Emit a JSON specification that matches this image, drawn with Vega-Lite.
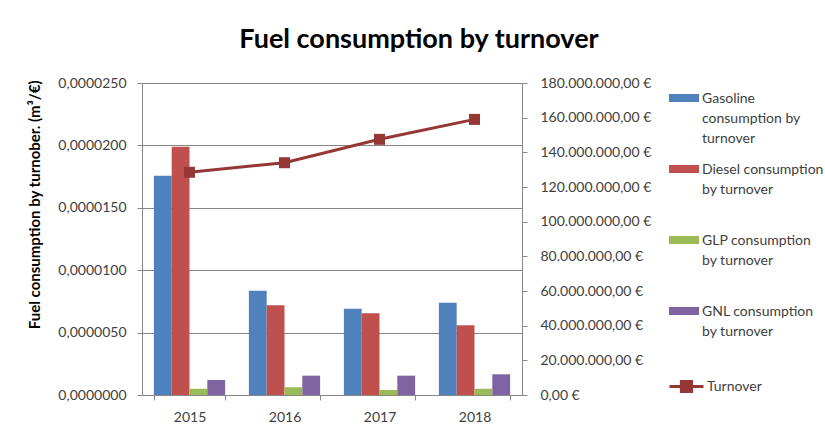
{
  "$schema": "https://vega.github.io/schema/vega-lite/v6.json",
  "width": 380,
  "height": 312,
  "autosize": {"type": "none"},
  "padding": {"left": 142, "top": 83, "right": 303, "bottom": 43},
  "background": "white",
  "config": {
    "locale": {"number": {"decimal": ",", "thousands": ".", "grouping": [3], "currency": ["", " €"]}},
    "font": "Lato",
    "view": {"stroke": null},
    "axis": {
      "labelFont": "Lato",
      "labelFontSize": 14,
      "labelColor": "#404040",
      "domainColor": "#868686",
      "tickColor": "#868686",
      "gridColor": "#868686",
      "gridOpacity": 1,
      "tickSize": 5
    }
  },
  "title": {
    "text": "Fuel consumption by turnover",
    "font": "Lato",
    "fontSize": 27,
    "fontWeight": "bold",
    "color": "#000000",
    "anchor": "middle",
    "frame": "group",
    "dx": 87,
    "offset": 22
  },
  "layer": [
    {
      "data": {
        "values": [
          {"year": "2015", "series": "Gasoline", "value": 0.00001757},
          {"year": "2015", "series": "Diesel", "value": 0.0000199},
          {"year": "2015", "series": "GLP", "value": 0.0000005},
          {"year": "2015", "series": "GNL", "value": 0.0000012},
          {"year": "2016", "series": "Gasoline", "value": 0.00000836},
          {"year": "2016", "series": "Diesel", "value": 0.0000072},
          {"year": "2016", "series": "GLP", "value": 0.00000062},
          {"year": "2016", "series": "GNL", "value": 0.00000155},
          {"year": "2017", "series": "Gasoline", "value": 0.00000692},
          {"year": "2017", "series": "Diesel", "value": 0.00000655},
          {"year": "2017", "series": "GLP", "value": 0.0000004},
          {"year": "2017", "series": "GNL", "value": 0.00000155},
          {"year": "2018", "series": "Gasoline", "value": 0.0000074},
          {"year": "2018", "series": "Diesel", "value": 0.00000558},
          {"year": "2018", "series": "GLP", "value": 0.0000005},
          {"year": "2018", "series": "GNL", "value": 0.00000166}
        ]
      },
      "mark": {"type": "bar"},
      "encoding": {
        "x": {
          "field": "year",
          "type": "nominal",
          "scale": {"paddingInner": 0.25, "paddingOuter": 0.125},
          "axis": {"title": null, "labelAngle": 0, "tickBand": "extent", "labelPadding": 10, "grid": false}
        },
        "xOffset": {
          "field": "series",
          "type": "nominal",
          "sort": ["Gasoline", "Diesel", "GLP", "GNL"],
          "scale": {"paddingInner": 0, "paddingOuter": 0}
        },
        "y": {
          "field": "value",
          "type": "quantitative",
          "scale": {"domain": [0, 0.000025], "nice": false, "zero": true},
          "axis": {
            "title": "Fuel consumption  by turnober. (m³/€)",
            "titleFont": "Lato",
            "titleFontSize": 15,
            "titleFontWeight": "bold",
            "titleColor": "#000000",
            "titleX": -108,
            "titleY": -3,
            "titleAlign": "right",
            "titleBaseline": "middle",
            "titleAngle": -90,
            "values": [0, 0.000005, 0.00001, 0.000015, 0.00002, 0.000025],
            "format": ".7f",
            "labelPadding": 11,
            "grid": true
          }
        },
        "color": {
          "field": "series",
          "type": "nominal",
          "sort": ["Gasoline", "Diesel", "GLP", "GNL"],
          "scale": {"domain": ["Gasoline", "Diesel", "GLP", "GNL"], "range": ["#4F81BD", "#C0504D", "#9BBB59", "#8064A2"]},
          "legend": {
            "title": null,
            "orient": "none",
            "legendX": 527,
            "legendY": -6,
            "padding": 0,
            "symbolType": "M-1,0.133H1V0.667H-1Z",
            "symbolSize": 900,
            "symbolStrokeWidth": 0,
            "labelFont": "Lato",
            "labelFontSize": 14,
            "labelColor": "#404040",
            "labelBaseline": "top",
            "labelOffset": 3,
            "labelLimit": 300,
            "rowPadding": 2,
            "labelExpr": "datum.label == 'Gasoline' ? ['Gasoline', 'consumption by', 'turnover'] : datum.label == 'Diesel' ? ['Diesel consumption', 'by turnover', ''] : datum.label == 'GLP' ? ['GLP consumption', 'by turnover', ''] : ['GNL consumption', 'by turnover', '']",
            "encode": {"labels": {"update": {"lineHeight": {"value": 20}}}}
          }
        }
      }
    },
    {
      "data": {
        "values": [
          {"year": "2015", "series": "Turnover", "turnover": 128500000},
          {"year": "2016", "series": "Turnover", "turnover": 134000000},
          {"year": "2017", "series": "Turnover", "turnover": 147500000},
          {"year": "2018", "series": "Turnover", "turnover": 159000000}
        ]
      },
      "mark": {"type": "line", "strokeWidth": 3},
      "encoding": {
        "x": {
          "field": "year",
          "type": "nominal",
          "axis": {"title": null, "labelAngle": 0, "tickBand": "extent", "labelPadding": 10, "grid": false}
        },
        "y": {
          "field": "turnover",
          "type": "quantitative",
          "scale": {"domain": [0, 180000000], "nice": false},
          "axis": {
            "orient": "right",
            "title": null,
            "grid": false,
            "values": [0, 20000000, 40000000, 60000000, 80000000, 100000000, 120000000, 140000000, 160000000, 180000000],
            "format": "$,.2f",
            "labelPadding": 13
          }
        },
        "stroke": {
          "field": "series",
          "type": "nominal",
          "scale": {"domain": ["Turnover"], "range": ["#953735"]},
          "legend": {
            "title": null,
            "orient": "none",
            "legendX": 526,
            "legendY": 285,
            "padding": 0,
            "symbolType": "M-1,0H1M-0.3,-0.3H0.3V0.3H-0.3Z",
            "symbolSize": 1156,
            "symbolStrokeWidth": 3,
            "symbolFillColor": "#953735",
            "labelFont": "Lato",
            "labelFontSize": 14,
            "labelColor": "#404040",
            "labelOffset": 2
          }
        }
      }
    },
    {
      "data": {
        "values": [
          {"year": "2015", "turnover": 128500000},
          {"year": "2016", "turnover": 134000000},
          {"year": "2017", "turnover": 147500000},
          {"year": "2018", "turnover": 159000000}
        ]
      },
      "mark": {"type": "point", "shape": "square", "filled": true, "size": 121, "color": "#953735", "opacity": 1},
      "encoding": {
        "x": {
          "field": "year",
          "type": "nominal",
          "axis": {"title": null, "labelAngle": 0, "tickBand": "extent", "labelPadding": 10, "grid": false}
        },
        "y": {
          "field": "turnover",
          "type": "quantitative",
          "scale": {"domain": [0, 180000000], "nice": false},
          "axis": null
        }
      }
    }
  ],
  "resolve": {"scale": {"y": "independent"}}
}
